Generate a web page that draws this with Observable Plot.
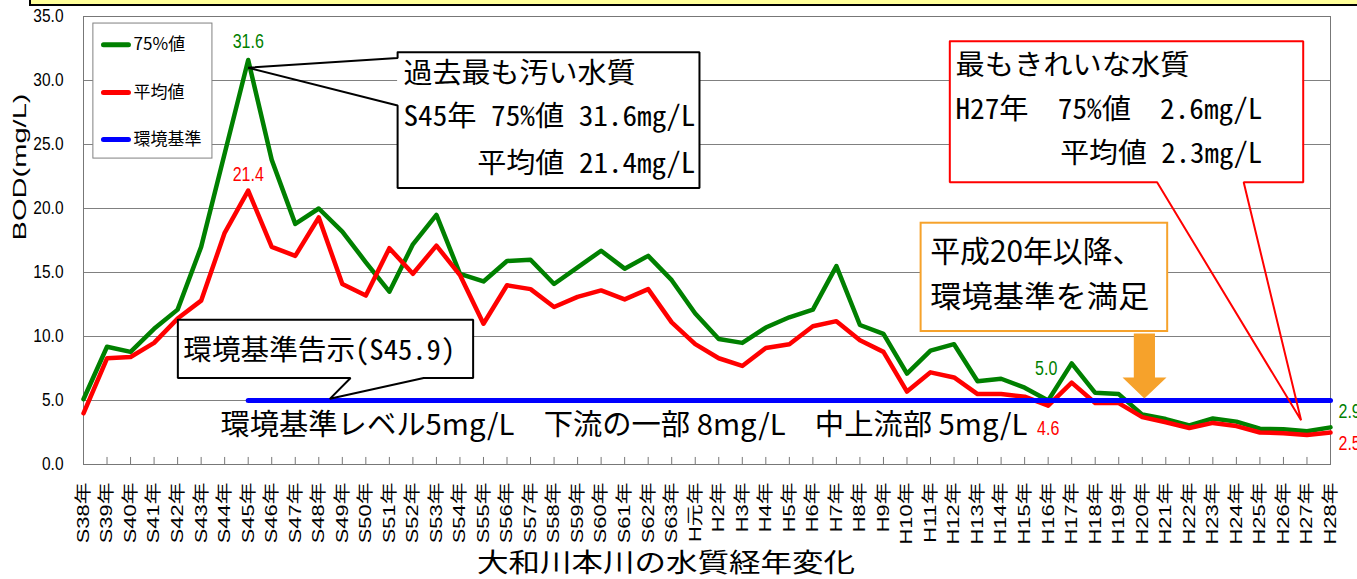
<!DOCTYPE html>
<html><head><meta charset="utf-8">
<script src="https://cdn.jsdelivr.net/npm/d3@7"></script>
<script src="https://cdn.jsdelivr.net/npm/@observablehq/plot@0.6"></script>
<style>
html,body{margin:0;padding:0;background:#fff;}
#wrap{position:relative;width:1357px;height:579px;overflow:hidden;background:#fff;}
#topbox{position:absolute;left:29px;top:-20px;width:1340px;height:22px;background:#ffff99;border:2px solid #000;z-index:2;}
#title{position:absolute;left:0;top:547px;width:1332px;text-align:center;font-family:"Noto Sans CJK JP",sans-serif;font-size:26px;line-height:28px;}
#tt{display:inline-block;transform-origin:center;}
</style></head><body>
<div id="wrap"><div id="chart"></div><div id="topbox"></div><div id="title"><span id="tt">大和川本川の水質経年変化</span></div></div>
<script>
const years = ["S38年","S39年","S40年","S41年","S42年","S43年","S44年","S45年","S46年","S47年","S48年","S49年","S50年","S51年","S52年","S53年","S54年","S55年","S56年","S57年","S58年","S59年","S60年","S61年","S62年","S63年","H元年","H2年","H3年","H4年","H5年","H6年","H7年","H8年","H9年","H10年","H11年","H12年","H13年","H14年","H15年","H16年","H17年","H18年","H19年","H20年","H21年","H22年","H23年","H24年","H25年","H26年","H27年","H28年"];
const p75 = [5.1,9.2,8.8,10.6,12.1,17.0,24.3,31.6,23.8,18.8,20.0,18.2,15.8,13.5,17.2,19.5,14.9,14.3,15.9,16.0,14.1,15.4,16.7,15.3,16.3,14.4,11.8,9.8,9.5,10.7,11.5,12.1,15.5,10.9,10.2,7.1,8.9,9.4,6.5,6.7,6.0,5.0,7.9,5.6,5.5,3.9,3.55,3.05,3.6,3.35,2.8,2.75,2.6,2.9];
const mean = [4.0,8.3,8.4,9.5,11.4,12.8,18.1,21.4,17.0,16.3,19.3,14.1,13.2,16.9,14.9,17.1,14.8,11.0,14.0,13.7,12.3,13.1,13.6,12.9,13.7,11.1,9.4,8.3,7.7,9.1,9.4,10.8,11.2,9.7,8.8,5.7,7.2,6.8,5.5,5.5,5.3,4.6,6.4,4.8,4.8,3.7,3.3,2.85,3.25,3.0,2.5,2.45,2.3,2.5];
const standard = [null,null,null,null,null,null,null,5,5,5,5,5,5,5,5,5,5,5,5,5,5,5,5,5,5,5,5,5,5,5,5,5,5,5,5,5,5,5,5,5,5,5,5,5,5,5,5,5,5,5,5,5,5,5];
const yTicks = [0,5,10,15,20,25,30,35];
const legendLabels = ["75%値","平均値","環境基準"];
const seriesNames = ["p75","mean","standard"];
const noteWorst = ["過去最も汚い水質","S45年 75%値 31.6mg/L","平均値 21.4mg/L"];
const noteBest = ["最もきれいな水質","H27年　75%値　2.6mg/L","平均値 2.3mg/L"];
const noteSince = ["平成20年以降、","環境基準を満足"];
const noteNotice = "環境基準告示(S45.9)";
const noteLevel = "環境基準レベル5mg/L　下流の一部 8mg/L　中上流部 5mg/L";
const yLabel = "BOD(mg/L)";

const GREEN = "#008000", RED = "#ff0000", BLUE = "#0000ff", ORANGE = "#f6a22b", GRID = "#808080";
const MONO = "'Noto Sans Mono CJK JP','Noto Sans CJK JP',sans-serif";
const CJK = "'Noto Sans CJK JP',sans-serif";
const idx = years.map((_, i) => i);

const txt = (str, x, y, o = {}) => Plot.text([str], {x: () => x, y: () => y, text: d => d, lineAnchor: "middle", textAnchor: "start", fill: "black", fontFamily: MONO, fontSize: 28, ...o});
const boxRect = (x1, x2, y1, y2, o) => Plot.rect([0], {x1: () => x1, x2: () => x2, y1: () => y1, y2: () => y2, fill: "white", ...o});
const outline = (pts, o) => Plot.line(pts, {x: d => d[0], y: d => d[1], stroke: "black", strokeWidth: 2, strokeLinejoin: "miter", ...o});
const valueTexts = new Set();
const valLabel = (series, i, color, dx, dy, anchor) => {
  valueTexts.add(series[i].toFixed(1));
  return Plot.text([i], {x: d => d, y: d => series[d], text: d => series[d].toFixed(1), fill: color, dx, dy, textAnchor: anchor || "middle", lineAnchor: "middle", fontSize: 20});
};

const legendY = [32.8, 29.06, 25.39];
const legendColors = [GREEN, RED, BLUE];

const chart = Plot.plot({
  width: 1357, height: 548,
  marginLeft: 83, marginRight: 27, marginTop: 16, marginBottom: 84,
  style: {fontFamily: "'Liberation Sans','Noto Sans CJK JP',sans-serif", background: "white", color: "black", overflow: "visible"},
  x: {domain: [0, years.length - 1]},
  y: {domain: [0, 35]},
  marks: [
    Plot.ruleY(yTicks.slice(1, -1), {stroke: GRID, strokeWidth: 1}),
    Plot.frame({stroke: "#777"}),
    Plot.ruleX(idx.slice(1, -1), {y1: 0, y2: 0.55, stroke: "#777"}),
    Plot.axisX({ticks: idx, tickFormat: i => years[i], tickRotate: -90, tickSize: 0, tickPadding: 18, fontSize: 16.7, label: null}),
    Plot.axisY({ticks: yTicks, tickFormat: d3.format(".1f"), tickSize: 0, tickPadding: 20, fontSize: 18, label: null}),
    Plot.text([yLabel], {frameAnchor: "left", dx: -63, rotate: -90, text: d => d, fontSize: 18}),
    // legend
    boxRect(0.42, 5.48, 23.9, 34.45, {stroke: GRID, strokeWidth: 1}),
    Plot.link(seriesNames, {x1: () => 0.85, x2: () => 1.91, y1: (d, i) => legendY[i], y2: (d, i) => legendY[i], stroke: (d, i) => legendColors[i], strokeWidth: 5, strokeLinecap: "round"}),
    Plot.text(legendLabels, {x: () => 2.13, y: (d, i) => legendY[i], text: d => d, textAnchor: "start", lineAnchor: "middle", fontSize: 17, fontFamily: CJK}),
    // data
    Plot.line(idx, {x: i => i, y: i => p75[i], stroke: GREEN, strokeWidth: 4.5, strokeLinejoin: "round"}),
    Plot.line(idx, {x: i => i, y: i => mean[i], stroke: RED, strokeWidth: 4.5, strokeLinejoin: "round"}),
    Plot.line(idx, {x: i => i, y: i => standard[i], stroke: BLUE, strokeWidth: 5}),
    valLabel(p75, 7, GREEN, 0, -18.5),
    valLabel(mean, 7, RED, 0, -16),
    valLabel(p75, 41, GREEN, -2, -32),
    valLabel(mean, 41, RED, 0, 23),
    valLabel(p75, 53, GREEN, 8, -16, "start"),
    valLabel(mean, 53, RED, 8, 11, "start"),
    // worst note
    boxRect(13.35, 26.18, 21.6, 32.2, {}),
    outline([[13.35,32.2],[26.18,32.2],[26.18,21.6],[13.35,21.6],[13.35,28.05],[7,31.0],[13.35,31.75],[13.35,32.2]], {}),
    txt(noteWorst[0], 13.6, 30.52),
    txt(noteWorst[1], 13.6, 27.13),
    txt(noteWorst[2], 26.0, 23.49, {textAnchor: "end"}),
    // best note
    boxRect(36.82, 51.84, 22.05, 33.07, {}),
    outline([[36.82,33.07],[51.84,33.07],[51.84,22.05],[49.31,22.05],[51.75,3.45],[45.63,22.05],[36.82,22.05],[36.82,33.07]], {stroke: RED}),
    txt(noteBest[0], 37.06, 31.1),
    txt(noteBest[1], 37.06, 27.73),
    txt(noteBest[2], 50.1, 24.22, {textAnchor: "end"}),
    // since H20 note
    boxRect(35.6, 46.08, 10.39, 18.85, {stroke: ORANGE, strokeWidth: 2}),
    txt(noteSince[0], 35.99, 16.6, {fontFamily: CJK, fontSize: 30}),
    txt(noteSince[1], 35.99, 13.09, {fontFamily: CJK, fontSize: 30}),
    Plot.line([[44.64,10.23],[45.54,10.23],[45.54,6.8],[46.03,6.8],[45.09,5.16],[44.16,6.8],[44.64,6.8]], {x: d => d[0], y: d => d[1], fill: ORANGE, stroke: "none"}),
    // notice note
    boxRect(4.01, 16.56, 6.76, 11.3, {}),
    outline([[4.01,11.3],[16.56,11.3],[16.56,6.76],[14.46,6.76],[10.47,5.13],[11.35,6.76],[4.01,6.76],[4.01,11.3]], {}),
    txt(noteNotice, 4.24, 8.9),
    txt(noteLevel, 5.82, 3.0, {fontFamily: CJK, fontSize: 29})
  ]
});
document.getElementById("chart").append(chart);

function fitEl(el, target) {
  const L = el.getComputedTextLength();
  if (!L) return;
  const t = typeof target === "function" ? target(L) : target;
  el.setAttribute("textLength", t);
  el.setAttribute("lengthAdjust", "spacingAndGlyphs");
}
chart.querySelectorAll('g[aria-label="x-axis tick label"] text').forEach(el => fitEl(el, L => L * 1.31));
chart.querySelectorAll('g[aria-label="y-axis tick label"] text').forEach(el => fitEl(el, L => L * 0.86));
const widths = new Map([
  [noteWorst[0], 232], [noteWorst[1], 292], [noteWorst[2], 218],
  [noteBest[0], 234], [noteBest[1], 307], [noteBest[2], 202],
  [noteSince[0], 212], [noteSince[1], 219],
  [noteNotice, 272], [noteLevel, 807], [yLabel, 147]
]);
chart.querySelectorAll('g[aria-label="text"] text').forEach(el => {
  const s = el.textContent;
  if (widths.has(s)) fitEl(el, widths.get(s));
  else if (valueTexts.has(s)) fitEl(el, L => L * 0.8);
});

const tt = document.getElementById("tt");
const w = tt.getBoundingClientRect().width;
tt.style.transform = `scaleX(${378 / w})`;
</script></body></html>
